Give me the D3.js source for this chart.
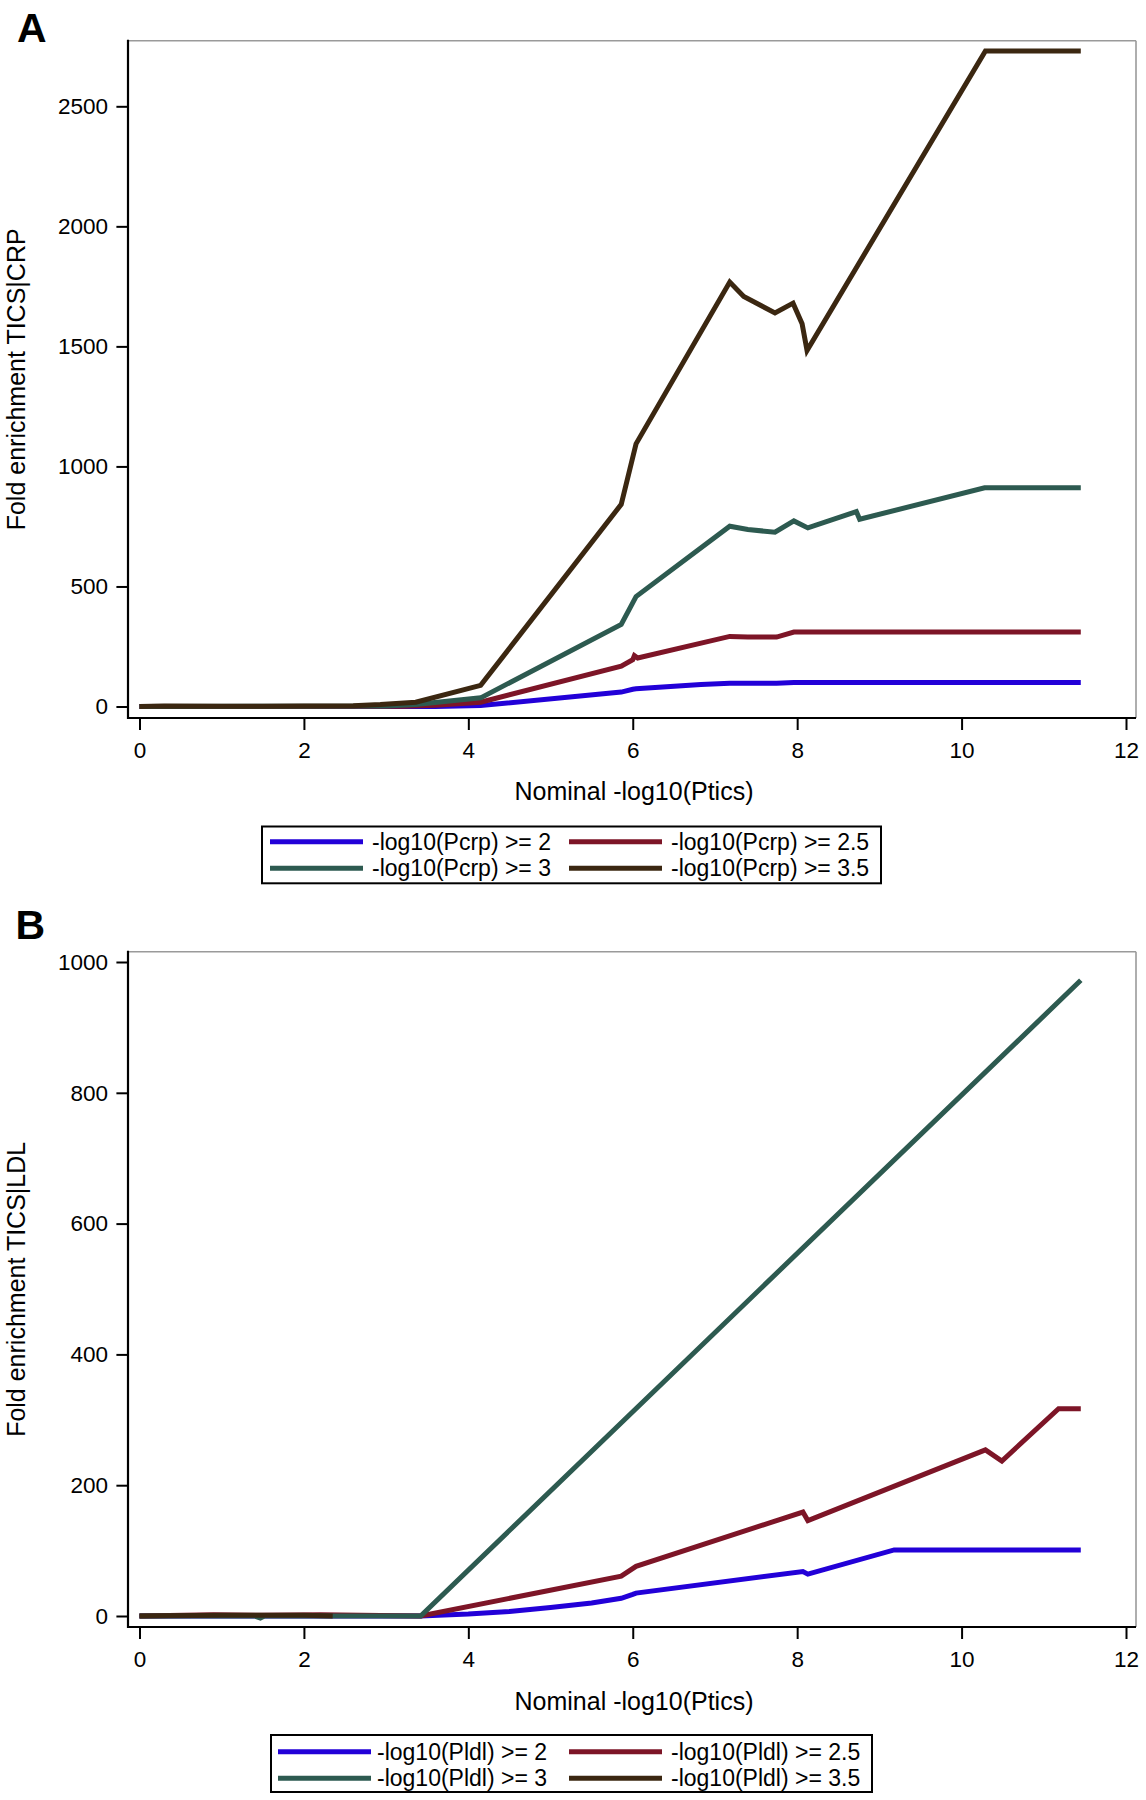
<!DOCTYPE html>
<html><head><meta charset="utf-8">
<script src="https://cdn.jsdelivr.net/npm/d3@7"></script>
<style>
body{margin:0;background:#fff}
svg{display:block}
text{font-family:"Liberation Sans",Arial,Helvetica,sans-serif;fill:#000}
</style>
</head><body>
<svg id="chart" width="1146" height="1800"></svg>
<script>
// ---------- data ----------
const xTicks = [0, 2, 4, 6, 8, 10, 12];
const yTicksA = [0, 500, 1000, 1500, 2000, 2500];
const yTicksB = [0, 200, 400, 600, 800, 1000];

const seriesColors = ["#2200d8", "#7d1527", "#2d5a50", "#3b2711"];

const legendA = ["-log10(Pcrp) >= 2", "-log10(Pcrp) >= 2.5", "-log10(Pcrp) >= 3", "-log10(Pcrp) >= 3.5"];
const legendB = ["-log10(Pldl) >= 2", "-log10(Pldl) >= 2.5", "-log10(Pldl) >= 3", "-log10(Pldl) >= 3.5"];

const titleX = "Nominal -log10(Ptics)";
const titleYA = "Fold enrichment TICS|CRP";
const titleYB = "Fold enrichment TICS|LDL";

// Panel A: fold enrichment TICS|CRP
const crp2 = [[0,0],[3.6,0],[4.15,4],[5.86,60],[6.0,72],[6.04,74],[6.83,92],[7.18,97],[7.75,97],[7.96,100],[11.45,100]];
const crp25 = [[0,0],[3.2,1],[3.6,5],[4.15,18],[5.86,168],[6.0,195],[6.02,212],[6.06,202],[7.18,292],[7.4,290],[7.75,289],[7.96,310],[11.45,310]];
const crp3 = [[0,0],[3.0,2],[3.36,8],[4.15,36],[5.86,342],[6.04,458],[7.18,751],[7.4,737],[7.73,726],[7.96,773],[8.13,744],[8.72,812],[8.76,780],[10.28,911],[11.45,911]];
const crp35 = [[0,0],[0.3,2],[1.0,1],[1.5,1],[2.0,2],[2.6,3],[2.93,8],[3.36,18],[4.15,88],[5.86,842],[6.04,1094],[7.18,1768],[7.35,1708],[7.73,1639],[7.95,1680],[8.06,1594],[8.12,1483],[10.29,2730],[11.45,2730]];

// Panel B: fold enrichment TICS|LDL
const ldl2 = [[0,0],[3.42,0],[4.0,3],[4.5,7],[5.0,13],[5.5,20],[5.86,27],[6.0,33],[6.04,35],[8.07,68],[8.13,64],[9.18,101],[11.45,101]];
const ldl25 = [[0,0],[0.9,2],[1.5,1],[2.2,2],[3.42,0],[5.86,61],[6.04,76],[8.07,159],[8.13,146],[10.29,254],[10.49,237],[11.18,317],[11.45,317]];
const ldl3 = [[0,0],[1.4,0],[1.47,-3],[1.52,0],[3.42,0],[11.45,972]];
const ldl35 = [[0,0],[1.0,1],[2.0,1],[2.35,0]];

// ---------- drawing ----------
const svg = d3.select("#chart");

function drawPanel(cfg) {
  const g = svg.append("g");
  const x = d3.scaleLinear().domain([0, 12]).range([139.5, 1126]);
  const y = d3.scaleLinear().domain([0, cfg.yMax]).range([cfg.y0, cfg.yTop]);
  const L = 128, R = 1136, T = cfg.frameTop, B = cfg.frameBottom;

  // gray outline (top / right)
  g.append("line").attr("x1", L).attr("x2", R).attr("y1", T).attr("y2", T)
    .attr("stroke", "#9a9a9a").attr("stroke-width", 1.6);
  g.append("line").attr("x1", R).attr("x2", R).attr("y1", T).attr("y2", B)
    .attr("stroke", "#9a9a9a").attr("stroke-width", 1.6);

  // series lines (blue, red, green, brown drawn in that order)
  const line = d3.line().x(d => x(d[0])).y(d => y(d[1]));
  cfg.series.forEach((s, i) => {
    g.append("path").datum(s).attr("d", line)
      .attr("fill", "none").attr("stroke", seriesColors[i])
      .attr("stroke-width", 5).attr("stroke-linejoin", "miter").attr("stroke-miterlimit", 6);
  });

  // axes
  const yAxis = g.append("g").attr("transform", `translate(${L},0)`)
    .call(d3.axisLeft(y).tickValues(cfg.yTicks).tickSize(11.6).tickPadding(8.4).tickFormat(d3.format("d")));
  yAxis.select(".domain").remove();
  yAxis.selectAll(".tick line").attr("stroke", "#000").attr("stroke-width", 2);
  yAxis.selectAll(".tick text").attr("font-size", 22.5).attr("font-family", "Liberation Sans, Arial, sans-serif").attr("fill", "#000");

  const xAxis = g.append("g").attr("transform", `translate(0,${B})`)
    .call(d3.axisBottom(x).tickValues(xTicks).tickSize(12).tickPadding(12).tickFormat(d3.format("d")));
  xAxis.select(".domain").remove();
  xAxis.selectAll(".tick line").attr("stroke", "#000").attr("stroke-width", 2);
  xAxis.selectAll(".tick text").attr("font-size", 22.5).attr("font-family", "Liberation Sans, Arial, sans-serif").attr("fill", "#000");

  // black axis lines (left / bottom)
  g.append("line").attr("x1", L).attr("x2", L).attr("y1", T - 1).attr("y2", B + 1)
    .attr("stroke", "#000").attr("stroke-width", 2.2);
  g.append("line").attr("x1", L - 1).attr("x2", R).attr("y1", B).attr("y2", B)
    .attr("stroke", "#000").attr("stroke-width", 2.2);

  // titles
  g.append("text").attr("x", 634).attr("y", cfg.xTitleY).attr("text-anchor", "middle")
    .attr("font-size", 25).text(titleX);
  g.append("text").attr("transform", `translate(25,${(T + B) / 2}) rotate(-90)`)
    .attr("text-anchor", "middle").attr("font-size", 25).text(cfg.yTitle);

  // panel letter
  g.append("text").attr("x", cfg.letterX).attr("y", cfg.letterY)
    .attr("font-size", 41).attr("font-weight", "bold").text(cfg.letter);

  // legend
  const lg = cfg.legend;
  g.append("rect").attr("x", lg.x0).attr("y", lg.y0).attr("width", lg.x1 - lg.x0).attr("height", lg.y1 - lg.y0)
    .attr("fill", "#fff").attr("stroke", "#000").attr("stroke-width", 2);
  cfg.legendLabels.forEach((lab, i) => {
    const col = i % 2, row = Math.floor(i / 2);
    const ry = lg.rows[row];
    const c = lg.cols[col];
    g.append("line").attr("x1", c.l0).attr("x2", c.l1).attr("y1", ry).attr("y2", ry)
      .attr("stroke", seriesColors[i]).attr("stroke-width", 5);
    g.append("text").attr("x", c.t).attr("y", ry + 8).attr("font-size", 23).text(lab);
  });
}

drawPanel({
  yMax: 2500, y0: 706.5, yTop: 106.3, frameTop: 40.7, frameBottom: 718,
  yTicks: yTicksA, series: [crp2, crp25, crp3, crp35],
  xTitleY: 800, yTitle: titleYA, letter: "A", letterX: 17, letterY: 41.7,
  legendLabels: legendA,
  legend: { x0: 262, x1: 881, y0: 826.5, y1: 883.3, rows: [841.7, 868.3],
    cols: [{ l0: 270, l1: 363, t: 372 }, { l0: 569, l1: 662, t: 671 }] }
});

drawPanel({
  yMax: 1000, y0: 1616, yTop: 962, frameTop: 951.7, frameBottom: 1627,
  yTicks: yTicksB, series: [ldl2, ldl25, ldl3, ldl35],
  xTitleY: 1710, yTitle: titleYB, letter: "B", letterX: 15.5, letterY: 939.3,
  legendLabels: legendB,
  legend: { x0: 271, x1: 872, y0: 1735, y1: 1792, rows: [1751.7, 1778.3],
    cols: [{ l0: 278, l1: 371, t: 377 }, { l0: 569, l1: 662, t: 671 }] }
});
</script>
</body></html>
